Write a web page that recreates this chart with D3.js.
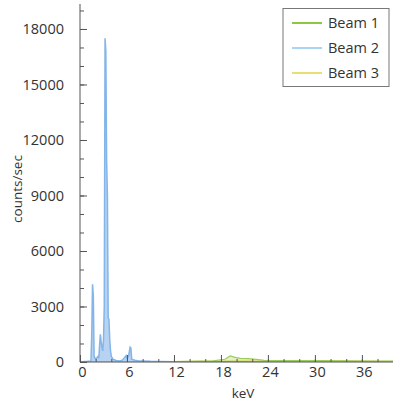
<!DOCTYPE html>
<html><head><meta charset="utf-8">
<script src="https://cdn.jsdelivr.net/npm/d3@7"></script>
<style>
html,body{margin:0;padding:0;background:#fff;}
svg{display:block;font-family:"Open Sans",sans-serif;}
</style></head><body>
<svg id="c" width="393" height="407"></svg>
<script>
// keV / counts-per-second pairs
const beam2 = [[0,0],[0.3,20],[1.0,40],[1.4,60],[1.5,1500],[1.6,4200],[1.7,3600],[1.8,300],[2.0,150],[2.3,300],[2.4,200],[2.5,900],[2.6,1500],[2.7,1100],[2.8,800],[2.9,600],[3.0,1200],[3.1,3000],[3.2,17500],[3.3,16800],[3.4,10900],[3.5,9000],[3.6,2400],[3.7,2300],[3.8,1200],[3.9,600],[4.0,300],[4.2,150],[4.6,80],[5.0,60],[5.4,100],[5.7,250],[5.9,350],[6.0,200],[6.2,300],[6.4,800],[6.5,750],[6.6,150],[7.0,100],[7.5,60],[8,60],[9,40],[10,30],[12,20],[15,10],[20,10],[30,5],[40,5]];
const beam1 = [[0,0],[10,10],[14,30],[17,60],[18.5,150],[19.2,330],[19.8,250],[20.5,200],[21.5,180],[22.5,140],[23.5,90],[26,70],[30,80],[34,60],[38,50],[40,50]];
const beam3 = [[0,0],[10,10],[14,40],[18,60],[20,90],[24,70],[28,60],[32,70],[36,50],[40,40]];
const seriesNames = ["Beam 1","Beam 2","Beam 3"];
const seriesColors = ["#8dc63f","#a9d5f2","#e6e070"];
const xTicks = [0,6,12,18,24,30,36];
const yTicks = [0,3000,6000,9000,12000,15000,18000];

const svg = d3.select("#c");
const L = 80, R = 393, T = 4, B = 362;
const x = d3.scaleLinear().domain([0,40]).range([L, L + 40*7.83]);
const y = d3.scaleLinear().domain([0,19350]).range([B, T]);

svg.append("clipPath").attr("id","clip").append("rect").attr("x",L).attr("y",0).attr("width",R-L).attr("height",B);
const g = svg.append("g").attr("clip-path","url(#clip)");

const area = d3.area().x(d=>x(d[0])).y0(B).y1(d=>y(d[1]));
const line = d3.line().x(d=>x(d[0])).y(d=>y(d[1]));

g.append("path").datum(beam3).attr("d",line).attr("fill","none").attr("stroke","#e6e070").attr("stroke-width",1.2);
g.append("path").datum(beam1).attr("d",area).attr("fill","#c9e3a0").attr("opacity",0.5);
g.append("path").datum(beam1).attr("d",line).attr("fill","none").attr("stroke","#9ccc5a").attr("stroke-width",1.2);
g.append("path").datum(beam2).attr("d",area).attr("fill","#aacbef").attr("opacity",0.85);
g.append("path").datum(beam2).attr("d",line).attr("fill","none").attr("stroke","#84b5e8").attr("stroke-width",1.5);

const axisColor = "#555";
const tickFont = "14.5px";
// Y axis
const yAx = svg.append("g").attr("transform",`translate(${L},0)`)
  .call(d3.axisLeft(y).tickValues(d3.range(0,19001,1000)).tickSize(-4).tickFormat(""));
yAx.selectAll("line").attr("stroke",axisColor);
yAx.select(".domain").attr("stroke",axisColor).attr("d",`M0,${T}V${B}`);
const yMaj = svg.append("g").attr("transform",`translate(${L},0)`)
  .call(d3.axisLeft(y).tickValues(yTicks).tickSize(-7).tickPadding(16).tickFormat(d3.format("d")));
yMaj.select(".domain").remove();
yMaj.selectAll("line").attr("stroke",axisColor);
yMaj.selectAll("text").attr("fill","#333").style("font-size",tickFont).style("font-family","Open Sans, sans-serif");

// X axis
const xAx = svg.append("g").attr("transform",`translate(0,${B})`)
  .call(d3.axisBottom(x).tickValues(d3.range(0,41,2)).tickSize(-3).tickFormat(""));
xAx.selectAll("line").attr("stroke",axisColor);
xAx.select(".domain").attr("stroke",axisColor).attr("d",`M${L},0H${R}`);
const xMaj = svg.append("g").attr("transform",`translate(0,${B})`)
  .call(d3.axisBottom(x).tickValues(xTicks).tickSize(-7).tickPadding(2).tickFormat(d3.format("d")));
xMaj.select(".domain").remove();
xMaj.selectAll("line").attr("stroke",axisColor);
xMaj.selectAll("text").attr("fill","#333").style("font-size",tickFont).style("font-family","Open Sans, sans-serif").attr("dy","0.9em");
xMaj.selectAll(".tick text").attr("transform","translate(2,0)");

// axis titles
svg.append("text").attr("transform","translate(22,189) rotate(-90)").attr("text-anchor","middle")
  .attr("fill","#333").style("font-size","13.5px").text("counts/sec");
svg.append("text").attr("x",243).attr("y",398).attr("text-anchor","middle")
  .attr("fill","#333").style("font-size","13.5px").text("keV");

// legend
const lg = svg.append("g");
lg.append("rect").attr("x",283).attr("y",8.5).attr("width",106).attr("height",78)
  .attr("fill","#fff").attr("stroke","#777").attr("stroke-width",1);
seriesNames.forEach((n,i)=>{
  const yy = 23 + i*25;
  lg.append("line").attr("x1",292).attr("x2",322).attr("y1",yy).attr("y2",yy)
    .attr("stroke",seriesColors[i]).attr("stroke-width",2);
  lg.append("text").attr("x",328).attr("y",yy+5).attr("fill","#333")
    .style("font-size","14.5px").text(n);
});
</script>
</body></html>
